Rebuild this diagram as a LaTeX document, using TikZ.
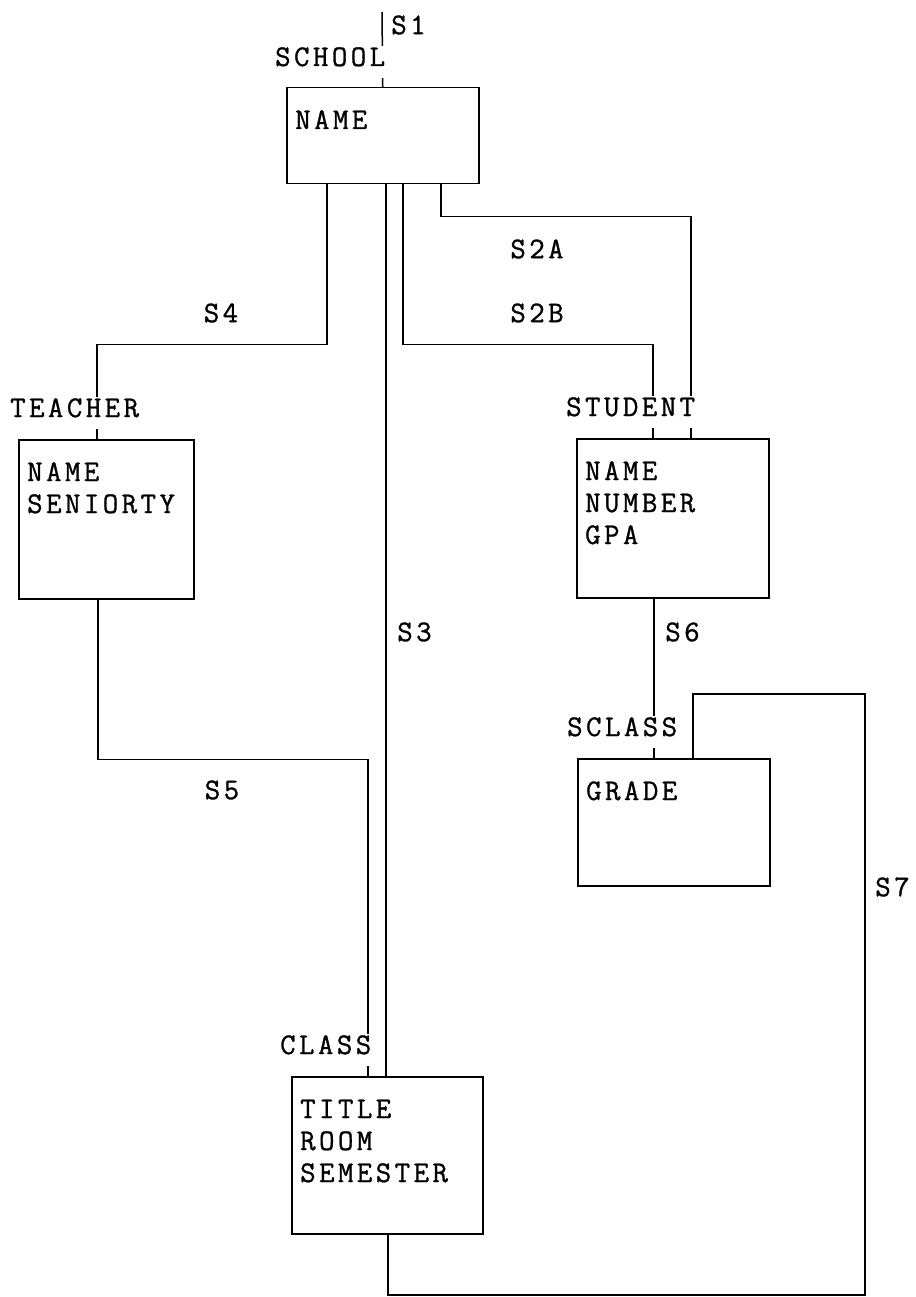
\documentclass[tikz,border=0pt]{standalone}
\usepackage{fontspec}
\newfontfamily\diafont{Latin Modern Mono}[LetterSpace=11.5,FakeBold=1]
\begin{document}
\begin{tikzpicture}[x=1pt,y=-1pt,
  lw/.style={line width=1.5pt},
  box/.style={draw, lw, anchor=north west, inner sep=0pt},
  conn/.style={lw},
  txt/.style={anchor=base west, inner sep=0pt, font=\fontsize{30}{32}\selectfont\diafont},
  ent/.style={anchor=base west, inner sep=0pt, fill=white, text height=20pt, text depth=12pt, font=\fontsize{30}{32}\selectfont\diafont},
  slbl/.style={inner sep=0pt, font=\fontsize{30}{32}\selectfont\diafont}]
\fill[white] (0,0) rectangle (915,1297);
\useasboundingbox (0,0) rectangle (915,1297);
% boxes
\node[box, minimum width=192pt, minimum height=96pt] (school) at (286,87) {};
\node[box, minimum width=175pt, minimum height=159pt] (teacher) at (18,439) {};
\node[box, minimum width=192pt, minimum height=159pt] (student) at (576,438) {};
\node[box, minimum width=192pt, minimum height=127pt] (sclass) at (577,758) {};
\node[box, minimum width=191pt, minimum height=157pt] (class) at (291,1076) {};
% box contents
\node[txt] (schooltxt) at (295,129) {NAME};
\node[txt] (teachertxt) at (27,481) {\begin{tabular}[t]{@{}l@{}}NAME\\SENIORTY\end{tabular}};
\node[txt] (studenttxt) at (585,480) {\begin{tabular}[t]{@{}l@{}}NAME\\NUMBER\\GPA\end{tabular}};
\node[txt] (sclasstxt) at (586,800) {GRADE};
\node[txt] (classtxt) at (300,1118) {\begin{tabular}[t]{@{}l@{}}TITLE\\ROOM\\SEMESTER\end{tabular}};
% coordinates for free ends / corners
\coordinate (s1top) at (382,12);
\coordinate (s7bot) at (865,1295);
\coordinate (s7top) at (865,694);
% connectors
\draw[conn] (s1top) -- (school.north);
\draw[conn] ([xshift=-56pt]school.south) -- ++(0,160) -| ([xshift=-9.5pt]teacher.north);
\draw[conn] ([xshift=3pt]school.south) -- ([xshift=-1.5pt]class.north);
\draw[conn] ([xshift=20pt]school.south) -- ++(0,160) -| ([xshift=-20pt]student.north);
\draw[conn] ([xshift=58pt]school.south) -- ++(0,32) -| ([xshift=18pt]student.north);
\draw[conn] ([xshift=-8.5pt]teacher.south) -- ++(0,160) -| ([xshift=-19.5pt]class.north);
\draw[conn] ([xshift=-19pt]student.south) -- ([xshift=-20pt]sclass.north);
\draw[conn] ([xshift=0.5pt]class.south) |- (s7bot) -- (s7top) -| ([xshift=19pt]sclass.north);
% entity labels
\node[ent] (lschool) at (275,66) {SCHOOL};
\node[ent] (lteacher) at (10,417) {TEACHER};
\node[ent] (lstudent) at (566,416) {STUDENT};
\node[ent] (lsclass) at (567,736) {SCLASS};
\node[ent] (lclass) at (280,1054) {CLASS};
% set labels
\node[slbl] (ls1) at (408.5,25) {S1};
\node[slbl] (ls2a) at (537,249) {S2A};
\node[slbl] (ls2b) at (537,313) {S2B};
\node[slbl] (ls4) at (221,313) {S4};
\node[slbl] (ls3) at (414.5,632) {S3};
\node[slbl] (ls5) at (222,790) {S5};
\node[slbl] (ls6) at (682.5,632) {S6};
\node[slbl] (ls7) at (892.5,887) {S7};
\end{tikzpicture}
\end{document}
